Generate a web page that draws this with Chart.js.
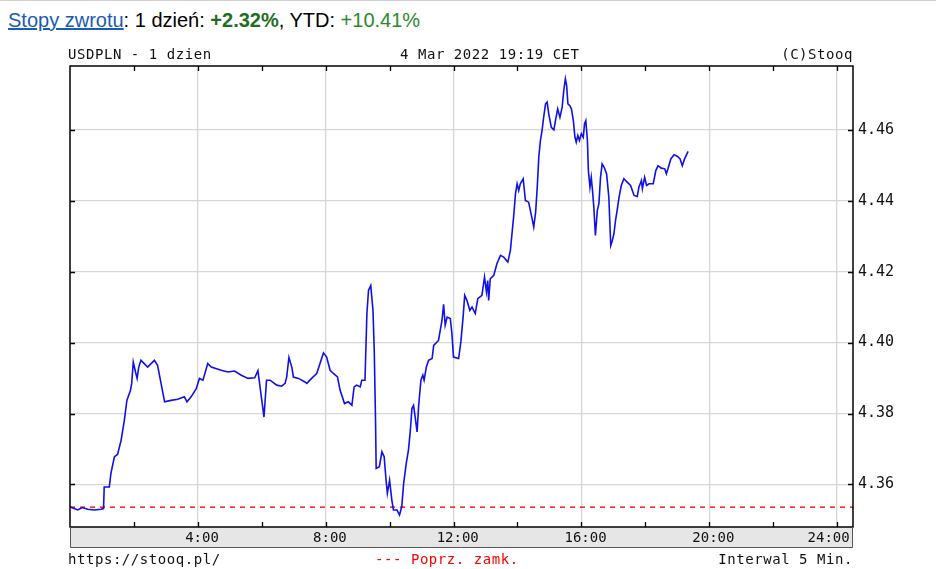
<!DOCTYPE html>
<html>
<head>
<meta charset="utf-8">
<script src="https://cdn.jsdelivr.net/npm/chart.js@4.4.1/dist/chart.umd.min.js"></script>
<style>
  body { margin: 0; background: #fff; width: 936px; height: 569px; overflow: hidden; position: relative; }
  .topline { position: absolute; left: 0; top: 0; width: 936px; height: 1px; background: #d0d0d0; }
  .head { position: absolute; left: 8px; top: 9px; font: 20px "Liberation Sans", Arial, sans-serif; color: #000; white-space: nowrap; }
  .head a { color: #1a5bb5; text-decoration: underline; }
  .up1 { color: #1f6e1f; font-weight: bold; }
  .up2 { color: #2a8a2a; }
  .lbl { position: absolute; font: 14px "DejaVu Sans Mono", monospace; color: #111; white-space: nowrap; letter-spacing: 0.55px; }
  #chart { position: absolute; left: 0; top: 0; }
</style>
</head>
<body>
<div class="topline"></div>
<div class="head"><a href="#">Stopy zwrotu</a>: 1 dzień: <span class="up1">+2.32%</span>, YTD: <span class="up2">+10.41%</span></div>
<canvas id="chart" width="936" height="569"></canvas>
<div class="lbl" style="left:68px; top:46px;">USDPLN - 1 dzien</div>
<div class="lbl" style="left:400px; top:46px;">4 Mar 2022 19:19 CET</div>
<div class="lbl" style="right:83px; top:46px;">(C)Stooq</div>
<div class="lbl" style="left:68px; top:551px;">https://stooq.pl/</div>
<div class="lbl" style="left:375px; top:551px; color:#ff0000;">--- Poprz. zamk.</div>
<div class="lbl" style="right:83px; top:551px;">Interwal 5 Min.</div>
<script>
// USDPLN intraday, 4 Mar 2022 (hours since midnight, CET)
const times = [
  0.00, 0.24, 0.39, 0.55, 0.76, 0.97, 1.05, 1.07, 1.23, 1.28, 1.39, 1.49, 1.60, 1.70, 1.78, 1.89,
  1.93, 1.98, 2.05, 2.10, 2.15, 2.22, 2.43, 2.64, 2.74, 2.96, 3.16, 3.37, 3.58, 3.66, 3.79, 3.95,
  4.05, 4.16, 4.31, 4.42, 4.73, 4.94, 5.15, 5.36, 5.57, 5.78, 5.88, 6.07, 6.15, 6.26, 6.47, 6.62,
  6.73, 6.78, 6.85, 6.94, 6.99, 7.15, 7.35, 7.41, 7.56, 7.72, 7.93, 8.03, 8.14, 8.24, 8.37, 8.45,
  8.59, 8.71, 8.82, 8.89, 8.97, 9.08, 9.13, 9.23, 9.29, 9.34, 9.41, 9.48, 9.52, 9.56, 9.58, 9.68,
  9.76, 9.83, 9.89, 9.93, 10.00, 10.07, 10.12, 10.23, 10.31, 10.38, 10.44, 10.52, 10.59, 10.65, 10.70, 10.75,
  10.80, 10.86, 10.91, 10.98, 11.04, 11.08, 11.15, 11.22, 11.33, 11.38, 11.53, 11.64, 11.69, 11.74, 11.80, 11.90,
  11.95, 12.00, 12.16, 12.23, 12.30, 12.35, 12.42, 12.51, 12.58, 12.68, 12.76, 12.89, 12.97, 13.03, 13.07, 13.10,
  13.15, 13.26, 13.36, 13.47, 13.57, 13.70, 13.78, 13.83, 13.88, 13.94, 13.99, 14.04, 14.09, 14.18, 14.25, 14.35,
  14.46, 14.51, 14.57, 14.62, 14.67, 14.72, 14.77, 14.82, 14.88, 14.93, 14.98, 15.06, 15.14, 15.19, 15.26, 15.33,
  15.40, 15.45, 15.50, 15.54, 15.58, 15.64, 15.69, 15.75, 15.80, 15.84, 15.89, 15.94, 16.00, 16.06, 16.10, 16.14,
  16.19, 16.22, 16.27, 16.31, 16.35, 16.39, 16.44, 16.50, 16.55, 16.60, 16.65, 16.71, 16.79, 16.86, 16.92, 16.97,
  17.02, 17.07, 17.12, 17.18, 17.25, 17.33, 17.44, 17.54, 17.65, 17.75, 17.80, 17.88, 17.91, 17.98, 18.04, 18.12,
  18.25, 18.33, 18.40, 18.50, 18.61, 18.66, 18.71, 18.80, 18.90, 19.01, 19.09, 19.16, 19.23, 19.34
];
const values = [
  4.3537, 4.3528, 4.3535, 4.3530, 4.3528, 4.3530, 4.3532, 4.3593, 4.3593, 4.3631, 4.3678, 4.3685, 4.3725, 4.3781, 4.3837, 4.3865,
  4.3885, 4.3945, 4.3917, 4.3899, 4.3931, 4.3950, 4.3931, 4.3950, 4.3936, 4.3833, 4.3837, 4.3840, 4.3847, 4.3833, 4.3847, 4.3870,
  4.3899, 4.3894, 4.3941, 4.3931, 4.3922, 4.3917, 4.3920, 4.3908, 4.3899, 4.3901, 4.3921, 4.3790, 4.3894, 4.3894, 4.3880, 4.3877,
  4.3885, 4.3903, 4.3958, 4.3931, 4.3903, 4.3899, 4.3889, 4.3885, 4.3899, 4.3913, 4.3971, 4.3959, 4.3922, 4.3913, 4.3903, 4.3866,
  4.3828, 4.3833, 4.3823, 4.3875, 4.3880, 4.3875, 4.3894, 4.3894, 4.4082, 4.4147, 4.4161, 4.4091, 4.3978, 4.3781, 4.3645, 4.3650,
  4.3692, 4.3678, 4.3612, 4.3575, 4.3612, 4.3556, 4.3528, 4.3528, 4.3514, 4.3537, 4.3603, 4.3659, 4.3697, 4.3753, 4.3814, 4.3823,
  4.3790, 4.3748, 4.3823, 4.3894, 4.3908, 4.3894, 4.3931, 4.3950, 4.3955, 4.3992, 4.4006, 4.4063, 4.4108, 4.4049, 4.4072, 4.4068,
  4.4025, 4.3959, 4.3955, 4.4002, 4.4072, 4.4133, 4.4119, 4.4091, 4.4100, 4.4082, 4.4124, 4.4133, 4.4185, 4.4143, 4.4175, 4.4119,
  4.4180, 4.4190, 4.4223, 4.4246, 4.4241, 4.4227, 4.4260, 4.4307, 4.4354, 4.4420, 4.4448, 4.4429, 4.4448, 4.4462, 4.4401, 4.4396,
  4.4349, 4.4326, 4.4368, 4.4438, 4.4525, 4.4570, 4.4598, 4.4635, 4.4673, 4.4678, 4.4645, 4.4607, 4.4600, 4.4626, 4.4659, 4.4635,
  4.4664, 4.4711, 4.4744, 4.4725, 4.4673, 4.4668, 4.4659, 4.4626, 4.4579, 4.4565, 4.4584, 4.4570, 4.4589, 4.4579, 4.4617, 4.4626,
  4.4570, 4.4485, 4.4438, 4.4466, 4.4429, 4.4382, 4.4302, 4.4373, 4.4392, 4.4466, 4.4504, 4.4495, 4.4476, 4.4410, 4.4274, 4.4288,
  4.4307, 4.4345, 4.4373, 4.4410, 4.4443, 4.4462, 4.4452, 4.4443, 4.4415, 4.4412, 4.4438, 4.4457, 4.4434, 4.4466, 4.4443, 4.4448,
  4.4448, 4.4485, 4.4499, 4.4492, 4.4490, 4.4476, 4.4490, 4.4518, 4.4530, 4.4525, 4.4518, 4.4499, 4.4518, 4.4539
];
const prevClose = 4.3536;
const hourTicks = [4, 8, 12, 16, 20, 24];
const minorHours = [0, 2, 4, 6, 8, 10, 12, 14, 16, 18, 20, 22, 24];
const priceTicks = [4.36, 4.38, 4.40, 4.42, 4.44, 4.46];

const X_MIN = 0, X_MAX = 24.5, Y_MIN = 4.348, Y_MAX = 4.478;
const MONO = '"DejaVu Sans Mono", monospace';

// frame, grey time band and inner tick marks
const framePlugin = {
    id: "frame",
    beforeDraw(chart) {
        const { ctx, chartArea: a } = chart;
        ctx.save();
        ctx.fillStyle = "#e6e6e6";
        ctx.fillRect(a.left, a.bottom, a.right - a.left, 20);
        ctx.restore();
    },
    afterDraw(chart) {
        const { ctx, chartArea: a, scales } = chart;
        ctx.save();
        ctx.strokeStyle = "#000";
        ctx.lineWidth = 1.5;
        ctx.strokeRect(a.left, a.top, a.right - a.left, a.bottom - a.top);
        ctx.lineWidth = 1;
        ctx.strokeStyle = "#555";
        ctx.beginPath();
        ctx.moveTo(a.left + 0.5, a.bottom); ctx.lineTo(a.left + 0.5, a.bottom + 20.5);
        ctx.lineTo(a.right - 0.5, a.bottom + 20.5); ctx.lineTo(a.right - 0.5, a.bottom);
        ctx.stroke();
        ctx.strokeStyle = "#000";
        ctx.lineWidth = 1.3;
        ctx.beginPath();
        minorHours.slice(1).forEach(h => {
            const x = Math.round(scales.x.getPixelForValue(h)) + 0.5;
            ctx.moveTo(x, a.top); ctx.lineTo(x, a.top + 5);
            ctx.moveTo(x, a.bottom); ctx.lineTo(x, a.bottom - 5);
        });
        priceTicks.forEach(p => {
            const y = Math.round(scales.y.getPixelForValue(p)) + 0.5;
            ctx.moveTo(a.left, y); ctx.lineTo(a.left + 5, y);
            ctx.moveTo(a.right, y); ctx.lineTo(a.right - 5, y);
        });
        ctx.stroke();
        ctx.restore();
    }
};

new Chart(document.getElementById("chart").getContext("2d"), {
    type: "line",
    data: {
        datasets: [
            {
                data: times.map((t, i) => ({ x: t, y: values[i] })),
                borderColor: "#1010e8",
                borderWidth: 1.6,
                pointRadius: 0,
                tension: 0
            },
            {
                data: [{ x: X_MIN, y: prevClose }, { x: X_MAX, y: prevClose }],
                borderColor: "#ff1a1a",
                borderWidth: 1.5,
                borderDash: [5, 5],
                pointRadius: 0
            }
        ]
    },
    options: {
        responsive: false,
        animation: false,
        layout: { padding: { left: 70, top: 66, right: 0, bottom: 0 } },
        plugins: { legend: { display: false }, tooltip: { enabled: false } },
        scales: {
            x: {
                type: "linear", min: X_MIN, max: X_MAX,
                afterFit: s => { s.height = 42; },
                afterBuildTicks: s => { s.ticks = hourTicks.map(v => ({ value: v })); },
                border: { display: false },
                grid: { drawTicks: false, color: "#d6d6d6", lineWidth: 1.3 },
                ticks: {
                    autoSkip: false, maxRotation: 0, padding: 3,
                    color: "#111", font: { family: MONO, size: 14 },
                    // last label is kept inside the frame, as in the original
                    callback: v => v === 24 ? "24:00  " : " " + v + ":00"
                }
            },
            y: {
                position: "right", min: Y_MIN, max: Y_MAX,
                afterFit: s => { s.width = 83; },
                afterBuildTicks: s => { s.ticks = priceTicks.map(v => ({ value: v })); },
                border: { display: false },
                grid: { drawTicks: false, color: "#d6d6d6", lineWidth: 1.3 },
                ticks: {
                    autoSkip: false, padding: 5,
                    color: "#111", font: { family: MONO, size: 15 },
                    callback: v => v.toFixed(2)
                }
            }
        }
    },
    plugins: [framePlugin]
});
</script>
</body>
</html>
